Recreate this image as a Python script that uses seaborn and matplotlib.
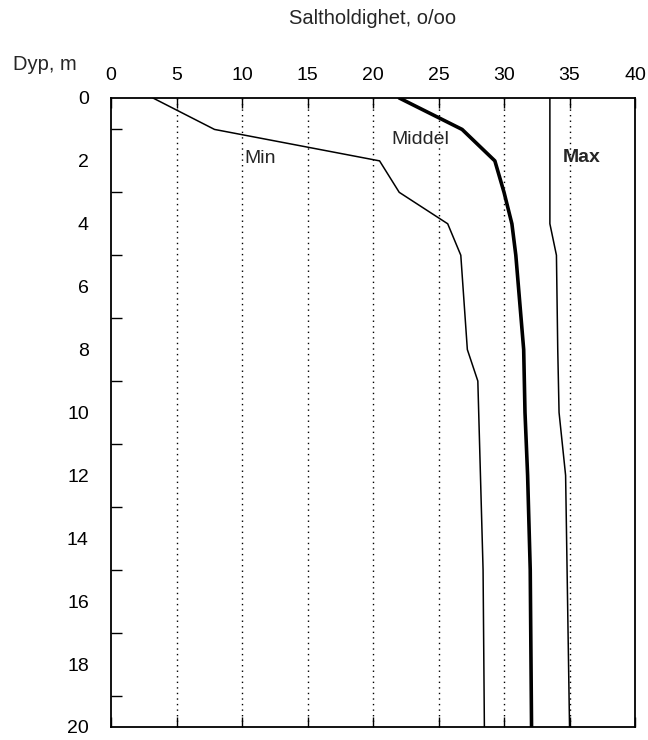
import matplotlib
matplotlib.use("Agg")
import matplotlib.pyplot as plt
from matplotlib.ticker import FixedLocator
import seaborn as sns
import pandas as pd

# Salinity profiles (o/oo) against depth (m)
depth_min = [0, 1, 2, 3, 4, 5, 8, 9, 15, 20]
sal_min = [3.2, 7.9, 20.5, 22.0, 25.7, 26.7, 27.2, 28.0, 28.4, 28.5]

depth_mid = [0, 1, 2, 3, 4, 5, 6, 7, 8, 10, 12, 15, 20]
sal_mid = [22.0, 26.8, 29.3, 30.0, 30.6, 30.9, 31.1, 31.3, 31.5, 31.6, 31.8, 32.0, 32.1]

depth_max = [0, 4, 5, 8, 10, 12, 20]
sal_max = [33.5, 33.5, 34.0, 34.1, 34.2, 34.7, 35.0]

x_ticks = [0, 5, 10, 15, 20, 25, 30, 35, 40]
y_ticks = [0, 2, 4, 6, 8, 10, 12, 14, 16, 18, 20]

title = "Saltholdighet, o/oo"
ylabel = "Dyp, m"

sns.set_theme(style="white")
plt.rcParams["font.family"] = ["Liberation Sans", "DejaVu Sans"]

fig = plt.figure(figsize=(6.48, 7.40), dpi=100)
ax = fig.add_axes([0.1713, 0.0176, 0.8087, 0.8500])

df_min = pd.DataFrame({"sal": sal_min, "depth": depth_min})
df_mid = pd.DataFrame({"sal": sal_mid, "depth": depth_mid})
df_max = pd.DataFrame({"sal": sal_max, "depth": depth_max})

sns.lineplot(data=df_min, x="sal", y="depth", sort=False, estimator=None,
             color="black", linewidth=1.1, ax=ax)
sns.lineplot(data=df_mid, x="sal", y="depth", sort=False, estimator=None,
             color="black", linewidth=2.6, ax=ax)
sns.lineplot(data=df_max, x="sal", y="depth", sort=False, estimator=None,
             color="black", linewidth=1.1, ax=ax)

ax.set_xlim(0, 40)
ax.set_ylim(20, 0)
ax.set_xlabel("")
ax.set_ylabel("")

# dotted vertical guides at the inner salinity ticks
for v in x_ticks[1:-1]:
    ax.axvline(v, color="black", linestyle=(0, (1, 3)), linewidth=1.0, zorder=0)

for s in ax.spines.values():
    s.set_color("black")
    s.set_linewidth(1.3)

ax.xaxis.tick_top()
ax.xaxis.set_major_locator(FixedLocator(x_ticks))
ax.set_xticklabels([str(t) for t in x_ticks], fontsize=14)
ax.tick_params(axis="x", which="major", direction="in", length=7, width=1.0,
               color="black", top=True, bottom=True, pad=10, labelcolor="black")

ax.yaxis.set_major_locator(FixedLocator(y_ticks))
ax.set_yticklabels([str(t) for t in y_ticks], fontsize=14)
ax.yaxis.set_minor_locator(FixedLocator(list(range(1, 20, 2))))
ax.tick_params(axis="y", which="major", length=0, pad=16, labelcolor="black")
ax.tick_params(axis="y", which="minor", direction="in", length=8, width=1.0,
               color="black", left=True, right=False)

ax.text(10.2, 1.94, "Min", fontsize=14, va="center", ha="left")
ax.text(21.4, 1.33, "Middel", fontsize=14, va="center", ha="left")
ax.text(34.5, 1.90, "Max", fontsize=14, va="center", ha="left", fontweight="bold")

fig.text(373 / 648, 1 - 18 / 740, title, fontsize=14.5, ha="center", va="center")
fig.text(13 / 648, 1 - 65 / 740, ylabel, fontsize=14.5, ha="left", va="center")

fig.savefig("out.png", dpi=100)
